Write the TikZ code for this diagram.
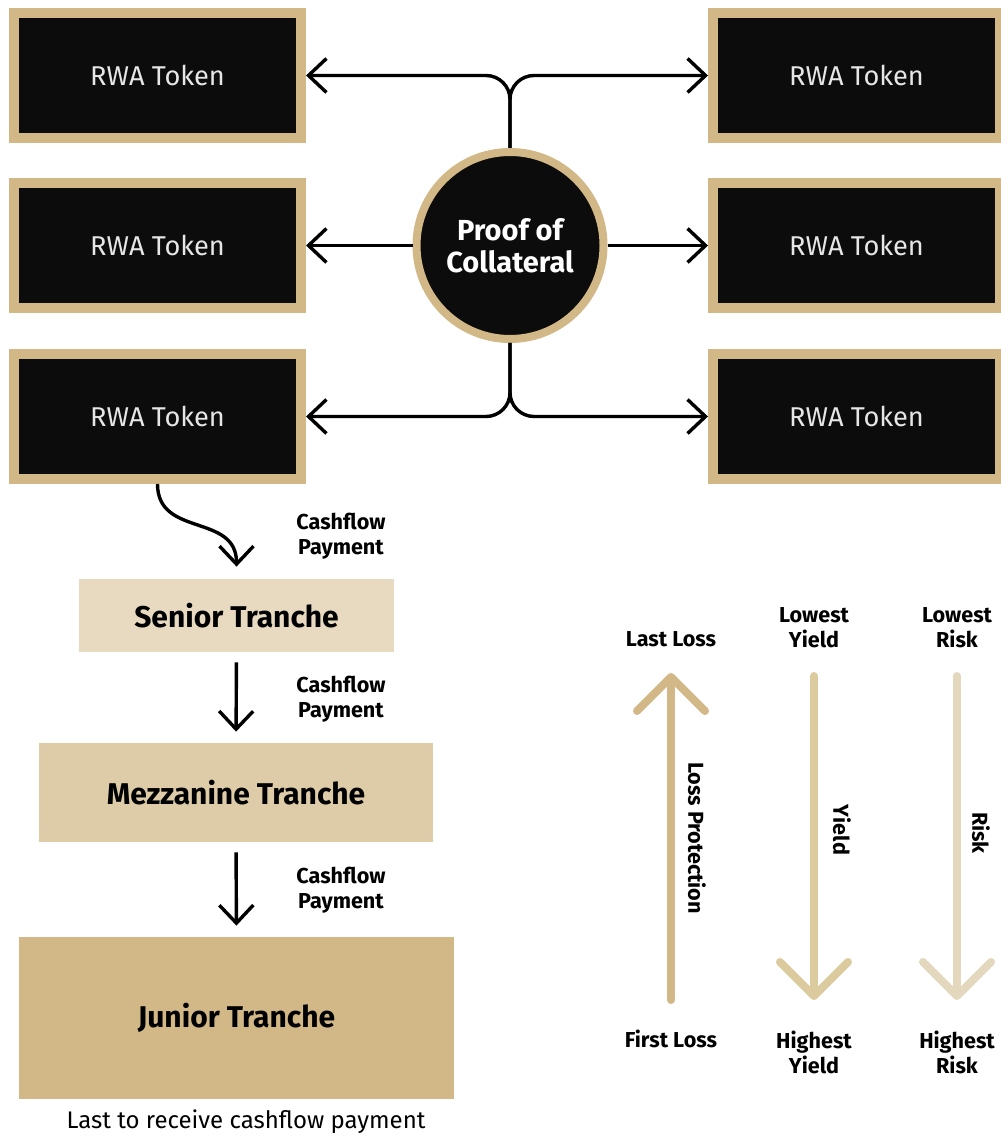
\documentclass[tikz,border=0pt]{standalone}
\usepackage{fontspec}
\setmainfont{Fira Sans}
\usetikzlibrary{arrows.meta}
\definecolor{gold}{HTML}{D2B887}
\definecolor{inkblack}{HTML}{0C0C0C}
\definecolor{tokentext}{HTML}{E6E6E6}
\definecolor{seniorfill}{HTML}{E8DAC0}
\definecolor{mezzfill}{HTML}{DECCA8}
\definecolor{juniorfill}{HTML}{D2B887}
\definecolor{yieldcol}{HTML}{DDCBA0}
\definecolor{riskcol}{HTML}{E3D8BE}

\begin{document}
\begin{tikzpicture}[x=0.5pt,y=-0.5pt,
	token/.style={draw=gold,line width=5pt,fill=inkblack,text=tokentext,minimum width=143.5pt,minimum height=62.5pt,font=\fontsize{13.6}{16}\selectfont},
	proof/.style={circle,draw=gold,line width=4pt,fill=inkblack,text=white,minimum size=93.5pt,inner sep=0pt,align=center,font=\fontsize{14.5}{16}\selectfont\bfseries},
	tranche/.style={inner sep=0pt,font=\fontsize{15}{17}\selectfont\bfseries},
	note/.style={align=center,font=\fontsize{10.8}{12.5}\selectfont\bfseries},
	cashflow/.style={-{Straight Barb[length=9pt,width=17pt]},line width=1.7pt},
	scalearrow/.style={line width=4pt,line cap=round,-{Straight Barb[length=17pt,width=34pt,round]}}
]
\path[use as bounding box,fill=white] (0,0) rectangle (1000,1138);

% token grid
\node[token] (tokL1) at (157.5,75.5) {RWA Token};
\node[token] (tokL2) at (157.5,245.5) {RWA Token};
\node[token] (tokL3) at (157.5,416.5) {RWA Token};
\node[token] (tokR1) at (856.5,75.5) {RWA Token};
\node[token] (tokR2) at (856.5,245.5) {RWA Token};
\node[token] (tokR3) at (856.5,416.5) {RWA Token};
\node[proof] (poc) at (510,245.5) {Proof of\\Collateral};

\draw[cashflow,rounded corners=12pt] (poc.north) |- (tokL1.east);
\draw[cashflow,rounded corners=12pt] (poc.north) |- (tokR1.west);
\draw[cashflow,rounded corners=12pt] (poc.south) |- (tokL3.east);
\draw[cashflow,rounded corners=12pt] (poc.south) |- (tokR3.west);
\path[cashflow]
(poc.west) edge (tokL2.east)
(poc.east) edge (tokR2.west);

% tranches
\node[tranche,fill=seniorfill,minimum width=157.5pt,minimum height=36.5pt] (senior) at (236.5,615.5) {Senior Tranche};
\node[tranche,fill=mezzfill,minimum width=197pt,minimum height=49.5pt] (mezz) at (236,792.5) {Mezzanine Tranche};
\node[tranche,fill=juniorfill,minimum width=217.5pt,minimum height=81pt] (junior) at (236.5,1018) {Junior Tranche};

\draw[cashflow] (tokL3.south) to[out=-90,in=90,looseness=1.2] ([yshift=6pt]senior.north);
\path[cashflow,shorten <=5pt,shorten >=5.5pt]
(senior.south) edge (mezz.north)
(mezz.south) edge (junior.north);

\node[note] (pay1) at (341,536) {Cashflow\\Payment};
\node[note] (pay2) at (341,699) {Cashflow\\Payment};
\node[note] (pay3) at (341,890) {Cashflow\\Payment};
\node[font=\fontsize{12}{14}\selectfont] (last) at (246,1122) {Last to receive cashflow payment};

% loss / yield / risk scales
\node[note] (lastloss) at (671,639) {Last Loss};
\node[note] (lowyield) at (814,628) {Lowest\\Yield};
\node[note] (lowrisk) at (957,628) {Lowest\\Risk};
\node[note] (firstloss) at (671,1039) {First Loss};
\node[note] (highyield) at (814,1052) {Highest\\Yield};
\node[note] (highrisk) at (957,1052) {Highest\\Risk};

\coordinate (lossB) at (671,1000);
\coordinate (lossT) at (671,673);
\coordinate (yieldT) at (814,676);
\coordinate (yieldB) at (814,1000);
\coordinate (riskT) at (957,676);
\coordinate (riskB) at (957,1000);
\draw[scalearrow,draw=gold] (lossB) -- (lossT);
\draw[scalearrow,draw=yieldcol] (yieldT) -- (yieldB);
\draw[scalearrow,draw=riskcol] (riskT) -- (riskB);

\node[note,rotate=-90] (lossprot) at (697,838) {Loss Protection};
\node[note,rotate=-90] (yieldlbl) at (842,830) {Yield};
\node[note,rotate=-90] (risklbl) at (981,833) {Risk};
\end{tikzpicture}
\end{document}
